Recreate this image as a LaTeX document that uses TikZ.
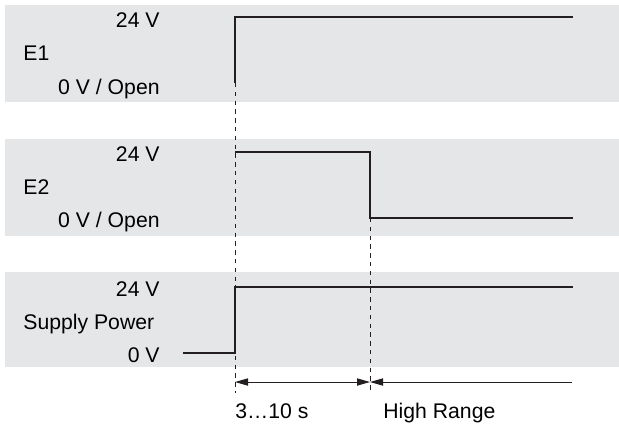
\documentclass[tikz,border=0pt]{standalone}
\usepackage{fontspec}
\setmainfont{Liberation Sans}
\usetikzlibrary{arrows.meta}

\definecolor{bandgray}{RGB}{229,230,232}
\definecolor{sigline}{RGB}{35,31,32}

\tikzset{
  band/.style={fill=bandgray},
  signal/.style={draw=sigline, line width=1pt, line join=miter},
  marker/.style={draw=sigline, line width=0.5pt, dash pattern=on 2.2pt off 2.2pt},
  span/.style={draw=sigline, line width=0.5pt, {Triangle[length=6.5pt,width=3.6pt]}-{Triangle[length=6.5pt,width=3.6pt]}},
  spanleft/.style={draw=sigline, line width=0.5pt, {Triangle[length=6.5pt,width=3.6pt]}-},
  lvl/.style={anchor=base east, inner sep=0pt, font=\fontsize{10.6}{12}\selectfont},
  signame/.style={anchor=base west, inner sep=0pt, font=\fontsize{10.6}{12}\selectfont},
}

\begin{document}
\begin{tikzpicture}[x=0.5pt, y=-0.5pt]

   \useasboundingbox (0,0) rectangle (619,424);

   % grey bands
   \fill [band] (5,5) rectangle (619,102);
   \fill [band] (5,139) rectangle (619,236);
   \fill [band] (5,272) rectangle (619,367);

   % labels E1
   \node [lvl]     (e1hi) at (160,27) {24 V};
   \node [signame] (e1)   at (23,60) {E1};
   \node [lvl]     (e1lo) at (160,94) {0 V / Open};

   % labels E2
   \node [lvl]     (e2hi) at (160,161) {24 V};
   \node [signame] (e2)   at (23,194) {E2};
   \node [lvl]     (e2lo) at (160,227) {0 V / Open};

   % labels supply
   \node [lvl]     (suphi) at (160,296) {24 V};
   \node [signame] (sup)   at (23,329) {Supply Power};
   \node [lvl]     (suplo) at (160,362) {0 V};

   % time marks
   \coordinate (t1) at (235,83);
   \coordinate (t1b) at (235,393);
   \coordinate (t2) at (370,218);
   \coordinate (t2b) at (370,393);

   \draw [marker] (t1) -- (t1b);
   \draw [marker] (t2) -- (t2b);

   % signals
   \draw [signal] (t1) -- (235,17) -- (573,17);
   \draw [signal] (235,152) -- (370,152) -- (t2) -- (573,218);
   \draw [signal] (183,353) -- (235,353) -- (235,287) -- (573,287);

   % spans
   \coordinate (a1) at (235,382);
   \coordinate (a2) at (370,382);
   \coordinate (a3) at (572,382);
   \draw [span] (a1) -- (a2);
   \draw [spanleft] (a2) -- (a3);

   \node [signame] (dur)  at (235,418) {3…10 s};
   \node [signame] (high) at (383,418) {High Range};

\end{tikzpicture}
\end{document}
